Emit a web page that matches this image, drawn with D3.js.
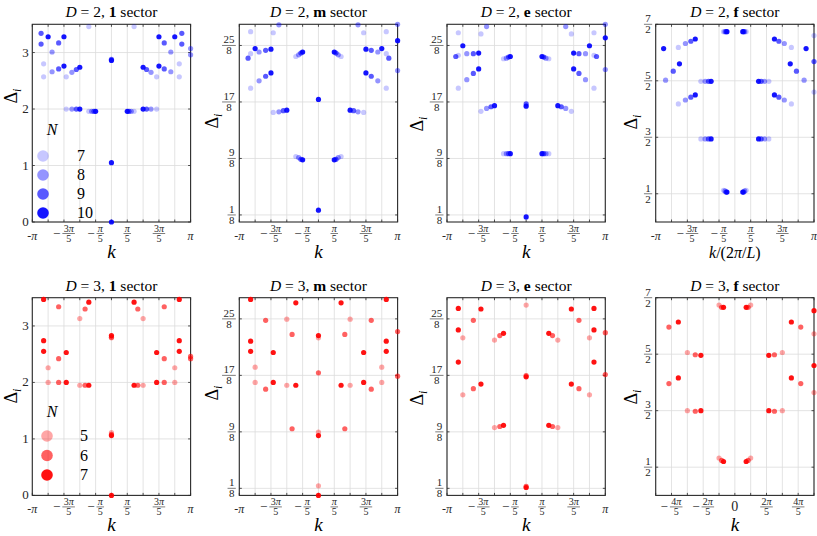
<!DOCTYPE html>
<html><head><meta charset="utf-8">
<script src="https://cdn.jsdelivr.net/npm/d3@7"></script>
<style>body{margin:0;background:#fff} svg, svg text{font-family:'Liberation Serif','Times New Roman','DejaVu Serif',serif}</style>
</head><body><svg id="c" width="817" height="536" font-family="Liberation Serif, DejaVu Serif, serif"></svg>
<script>
// ---- data: [k/π, Δ_i, N] ----
const d2Sector1 = [
[-0.889,3.34,9],[-0.889,3.15,9],[-0.857,2.80,7],[-0.857,2.57,7],[-0.8,3.28,10],
[-0.75,3.01,8],[-0.75,2.66,8],[-0.667,3.17,9],[-0.667,2.71,9],
[-0.6,3.28,10],[-0.6,2.76,10],[-0.571,2.57,7],[-0.571,2.0,7],
[-0.5,2.65,8],[-0.5,2.0,8],[-0.444,2.70,9],[-0.444,2.0,9],[-0.4,2.74,10],[-0.4,2.0,10],
[-0.286,3.46,7],[-0.286,1.96,7],[-0.25,1.96,8],[-0.222,1.96,9],[-0.2,1.96,10],
[0,2.88,9],[0,2.86,10],[0,1.05,10],[0,0,10],
[0.2,1.96,10],[0.222,1.96,9],[0.25,1.96,8],[0.286,1.96,7],[0.286,3.46,7],
[0.4,2.74,10],[0.4,2.0,10],[0.444,2.70,9],[0.444,2.0,9],[0.5,2.65,8],[0.5,2.0,8],
[0.571,2.57,7],[0.571,2.0,7],[0.6,3.28,10],[0.6,2.76,10],
[0.667,3.17,9],[0.667,2.71,9],[0.75,3.01,8],[0.75,2.66,8],[0.8,3.28,10],
[0.857,2.80,7],[0.857,2.57,7],[0.889,3.34,9],[0.889,3.15,9],
[1,3.07,8],[1,2.96,8]
];
const d2SectorM = [
[-0.889,2.90,9],[-0.857,3.37,7],[-0.857,2.98,7],[-0.857,2.37,7],[-0.8,3.07,10],
[-0.75,3.01,8],[-0.75,2.50,8],[-0.667,3.04,9],[-0.667,2.58,9],
[-0.6,3.06,10],[-0.6,2.64,10],[-0.571,3.35,7],[-0.571,1.94,7],
[-0.5,3.49,8],[-0.5,1.95,8],[-0.444,1.97,9],[-0.4,1.98,10],
[-0.286,2.93,7],[-0.25,2.96,8],[-0.222,2.99,9],[-0.2,3.01,10],
[-0.286,1.16,7],[-0.25,1.14,8],[-0.222,1.11,9],[-0.2,1.10,10],
[0,2.17,10],[0,0.21,10],
[0.2,3.01,10],[0.222,2.99,9],[0.25,2.96,8],[0.286,2.93,7],
[0.2,1.10,10],[0.222,1.11,9],[0.25,1.14,8],[0.286,1.16,7],
[0.4,1.98,10],[0.444,1.97,9],[0.5,1.95,8],[0.5,3.49,8],[0.571,1.94,7],[0.571,3.35,7],
[0.6,3.06,10],[0.6,2.64,10],[0.667,3.04,9],[0.667,2.58,9],[0.75,3.01,8],[0.75,2.50,8],
[0.8,3.07,10],[0.857,3.37,7],[0.857,2.98,7],[0.857,2.37,7],[0.889,2.90,9],
[1,3.50,8],[1,3.21,10],[1,2.68,8]
];
const d2SectorE = [
[-0.889,2.93,9],[-0.857,3.35,7],[-0.857,2.95,7],[-0.857,2.37,7],[-0.8,3.12,10],
[-0.75,2.98,8],[-0.75,2.52,8],[-0.667,2.98,9],[-0.667,2.63,9],
[-0.6,2.99,10],[-0.6,2.71,10],[-0.571,3.33,7],[-0.571,1.96,7],
[-0.5,3.46,8],[-0.5,2.01,8],[-0.444,2.04,9],[-0.4,2.06,10],
[-0.286,2.89,7],[-0.25,2.90,8],[-0.222,2.92,9],[-0.2,2.93,10],
[-0.286,1.21,7],[-0.25,1.21,8],[-0.222,1.21,9],[-0.2,1.21,10],
[0,2.09,9],[0,2.05,10],[0,0.09,10],
[0.2,2.93,10],[0.222,2.92,9],[0.25,2.90,8],[0.286,2.89,7],
[0.2,1.21,10],[0.222,1.21,9],[0.25,1.21,8],[0.286,1.21,7],
[0.4,2.06,10],[0.444,2.04,9],[0.5,2.01,8],[0.5,3.46,8],[0.571,1.96,7],[0.571,3.33,7],
[0.6,2.99,10],[0.6,2.71,10],[0.667,2.98,9],[0.667,2.63,9],[0.75,2.98,8],[0.75,2.52,8],
[0.8,3.12,10],[0.857,3.35,7],[0.857,2.95,7],[0.857,2.37,7],[0.889,2.93,9],
[1,3.50,8],[1,3.26,10],[1,2.70,8]
];
const d2SectorF = [
[-0.9,3.07,10],[-0.875,2.51,8],[-0.778,2.67,9],[-0.714,3.09,7],[-0.714,2.09,7],[-0.7,2.80,10],
[-0.625,3.16,8],[-0.625,2.16,8],[-0.556,3.20,9],[-0.556,2.21,9],[-0.5,3.24,10],[-0.5,2.25,10],
[-0.429,2.49,7],[-0.429,1.47,7],[-0.375,2.49,8],[-0.375,1.47,8],[-0.333,2.49,9],[-0.333,1.47,9],[-0.3,2.49,10],[-0.3,1.47,10],
[-0.143,3.37,7],[-0.143,0.56,7],[-0.125,3.37,8],[-0.125,0.55,8],[-0.111,3.37,9],[-0.111,0.53,9],[-0.1,3.37,10],[-0.1,0.53,10],
[0.1,3.37,10],[0.1,0.53,10],[0.111,3.37,9],[0.111,0.53,9],[0.125,3.37,8],[0.125,0.55,8],[0.143,3.37,7],[0.143,0.56,7],
[0.3,2.49,10],[0.3,1.47,10],[0.333,2.49,9],[0.333,1.47,9],[0.375,2.49,8],[0.375,1.47,8],[0.429,2.49,7],[0.429,1.47,7],
[0.5,3.24,10],[0.5,2.25,10],[0.556,3.20,9],[0.556,2.21,9],[0.625,3.16,8],[0.625,2.16,8],
[0.7,2.80,10],[0.714,3.09,7],[0.714,2.09,7],[0.778,2.67,9],[0.875,2.51,8],[0.9,3.07,10],
[1,3.30,7],[1,2.84,9],[1,2.30,7]
];
const d3Sector1 = [
[-0.857,3.47,7],[-0.857,2.74,7],[-0.857,2.55,7],[-0.8,2.26,5],[-0.8,2.0,5],
[-0.667,3.34,6],[-0.667,2.42,6],[-0.667,2.0,6],[-0.571,2.53,7],[-0.571,2.0,7],
[-0.4,3.13,5],[-0.4,1.95,5],[-0.333,3.30,6],[-0.333,1.95,6],[-0.286,3.42,7],[-0.286,1.95,7],
[0,2.79,5],[0,2.80,6],[0,2.83,7],[0,1.11,5],[0,1.08,6],[0,1.06,7],[0,0,7],
[0.286,3.42,7],[0.286,1.95,7],[0.333,3.30,6],[0.333,1.95,6],[0.4,3.13,5],[0.4,1.95,5],
[0.571,2.53,7],[0.571,2.0,7],[0.667,3.34,6],[0.667,2.42,6],[0.667,2.0,6],
[0.8,2.26,5],[0.8,2.0,5],[0.857,3.47,7],[0.857,2.74,7],[0.857,2.55,7],
[1,2.46,6],[1,2.42,6]
];
const d3SectorM = [
[-0.857,3.47,7],[-0.857,2.73,7],[-0.857,2.55,7],[-0.8,2.27,5],[-0.8,2.0,5],
[-0.667,3.10,6],[-0.667,1.88,6],[-0.571,2.53,7],[-0.571,2.0,7],
[-0.4,3.12,5],[-0.4,1.95,5],[-0.333,2.85,6],[-0.333,1.18,6],[-0.286,3.41,7],[-0.286,1.95,7],
[0,2.79,5],[0,2.83,7],[0,2.17,6],[0,1.12,5],[0,1.06,7],[0,0.17,5],[0,0,7],
[0.286,3.41,7],[0.286,1.95,7],[0.333,2.85,6],[0.333,1.18,6],[0.4,3.12,5],[0.4,1.95,5],
[0.571,2.53,7],[0.571,2.0,7],[0.667,3.10,6],[0.667,1.88,6],
[0.8,2.27,5],[0.8,2.0,5],[0.857,3.47,7],[0.857,2.73,7],[0.857,2.55,7],
[1,2.90,6],[1,2.11,6]
];
const d3SectorE = [
[-0.857,3.31,7],[-0.857,2.93,7],[-0.857,2.36,7],[-0.8,2.79,5],[-0.8,1.78,5],
[-0.667,3.10,6],[-0.667,1.89,6],[-0.571,3.30,7],[-0.571,1.97,7],
[-0.4,2.75,5],[-0.4,1.20,5],[-0.333,2.83,6],[-0.333,1.22,6],[-0.286,2.87,7],[-0.286,1.24,7],
[0,3.37,5],[0,2.12,6],[0,2.10,7],[0,0.16,6],[0,0.14,7],
[0.286,2.87,7],[0.286,1.24,7],[0.333,2.83,6],[0.333,1.22,6],[0.4,2.75,5],[0.4,1.20,5],
[0.571,3.30,7],[0.571,1.97,7],[0.667,3.10,6],[0.667,1.89,6],
[0.8,2.79,5],[0.8,1.78,5],[0.857,3.31,7],[0.857,2.93,7],[0.857,2.36,7],
[1,2.88,6],[1,2.14,6]
];
const d3SectorF = [
[-0.833,2.98,6],[-0.833,1.98,6],[-0.714,3.07,7],[-0.714,2.08,7],
[-0.6,2.53,5],[-0.6,1.50,5],[-0.5,2.49,6],[-0.5,1.49,6],[-0.429,2.48,7],[-0.429,1.50,7],
[-0.2,3.37,5],[-0.2,0.66,5],[-0.167,3.33,6],[-0.167,0.62,6],[-0.143,3.33,7],[-0.143,0.60,7],
[0.143,3.33,7],[0.143,0.60,7],[0.167,3.33,6],[0.167,0.62,6],[0.2,3.37,5],[0.2,0.66,5],
[0.429,2.48,7],[0.429,1.50,7],[0.5,2.49,6],[0.5,1.49,6],[0.6,2.53,5],[0.6,1.50,5],
[0.714,3.07,7],[0.714,2.08,7],[0.833,2.98,6],[0.833,1.98,6],
[1,3.27,7],[1,2.86,5],[1,2.30,7],[1,1.82,5]
];

// ---- ticks ----
const xGridVals = [-1,-0.8,-0.6,-0.4,-0.2,0,0.2,0.4,0.6,0.8,1];
const xTickVals = [-1,-0.6,-0.2,0.2,0.6,1];
const xTickLabels = [{plain:"-π"},{neg:true,num:"3π",den:"5"},{neg:true,num:"π",den:"5"},{num:"π",den:"5"},{num:"3π",den:"5"},{plain:"π"}];
const xTickValsF3 = [-0.8,-0.4,0,0.4,0.8];
const xTickLabelsF3 = [{neg:true,num:"4π",den:"5"},{neg:true,num:"2π",den:"5"},{plain:"0",big:true},{num:"2π",den:"5"},{num:"4π",den:"5"}];
const yTicksInt = [0,1,2,3];
const yLabelsInt = [{plain:"0"},{plain:"1"},{plain:"2"},{plain:"3"}];
const yTicksEighths = [0.125,1.125,2.125,3.125];
const yLabelsEighths = [{num:"1",den:"8"},{num:"9",den:"8"},{num:"17",den:"8"},{num:"25",den:"8"}];
const yTicksHalves = [0.5,1.5,2.5,3.5];
const yLabelsHalves = [{num:"1",den:"2"},{num:"3",den:"2"},{num:"5",den:"2"},{num:"7",den:"2"}];
const legendN2 = [7,8,9,10];
const legendN3 = [5,6,7];
const alpha2 = {7:0.22,8:0.42,9:0.65,10:0.92};
const alpha3 = {5:0.35,6:0.62,7:0.93};

// ---- layout ----
const FONT = "'Liberation Serif','Times New Roman','DejaVu Serif',serif";
const colLeft=[32.3,239.3,447,655.7], plotW=158.3;
const rowTop=[24.3,297.7], plotH=197.7;
const svg=d3.select("#c");

const panels=[
 {c:0,r:0,D:"2",s:"1",data:d2Sector1,yt:[yTicksInt,yLabelsInt],xt:[xTickVals,xTickLabels],col:"rgb(0,0,255)",al:alpha2,legend:legendN2,yl:[10,96],xl:"k"},
 {c:1,r:0,D:"2",s:"m",data:d2SectorM,yt:[yTicksEighths,yLabelsEighths],xt:[xTickVals,xTickLabels],col:"rgb(0,0,255)",al:alpha2,yl:[211,121],xl:"k"},
 {c:2,r:0,D:"2",s:"e",data:d2SectorE,yt:[yTicksEighths,yLabelsEighths],xt:[xTickVals,xTickLabels],col:"rgb(0,0,255)",al:alpha2,yl:[416,124],xl:"k"},
 {c:3,r:0,D:"2",s:"f",data:d2SectorF,yt:[yTicksHalves,yLabelsHalves],xt:[xTickVals,xTickLabels],col:"rgb(0,0,255)",al:alpha2,yl:[630,122],xl:"kL"},
 {c:0,r:1,D:"3",s:"1",data:d3Sector1,yt:[yTicksInt,yLabelsInt],xt:[xTickVals,xTickLabels],col:"rgb(255,0,0)",al:alpha3,legend:legendN3,yl:[10,396],xl:"k"},
 {c:1,r:1,D:"3",s:"m",data:d3SectorM,yt:[yTicksEighths,yLabelsEighths],xt:[xTickVals,xTickLabels],col:"rgb(255,0,0)",al:alpha3,yl:[211,393],xl:"k"},
 {c:2,r:1,D:"3",s:"e",data:d3SectorE,yt:[yTicksEighths,yLabelsEighths],xt:[xTickVals,xTickLabels],col:"rgb(255,0,0)",al:alpha3,yl:[416,398],xl:"k"},
 {c:3,r:1,D:"3",s:"f",data:d3SectorF,yt:[yTicksHalves,yLabelsHalves],xt:[xTickValsF3,xTickLabelsF3],col:"rgb(255,0,0)",al:alpha3,yl:[630,397],xl:"k"}
];

function txt(parent){ return parent.append("text").attr("font-family",FONT).style("font-family",FONT); }

function addParts(t, str){
  const parts = str.split(/(π)/).filter(s=>s.length);
  parts.forEach(p=>{
    const ts=t.append("tspan").text(p);
    if(p==="π") ts.attr("font-style","italic");
  });
}

function label(parent, x, y, spec, mode){
  const g=parent.append("g").attr("fill","#262626");
  if(spec.plain!==undefined){
    const fs = spec.big?14:(mode==="x"?12:13);
    const t=txt(g).attr("font-size",fs);
    addParts(t, spec.plain);
    if(mode==="x"){ t.attr("text-anchor","middle").attr("x",x).attr("y",y+(spec.big?15.5:17.5)); }
    else { t.attr("text-anchor","end").attr("x",x).attr("y",y+4); }
    return;
  }
  const fs = mode==="x"?10:11;
  const barY = mode==="x"? y+11.5 : y;
  const numT=txt(g).attr("text-anchor","middle").attr("font-size",fs).attr("y",-fs*0.2);
  addParts(numT, spec.num);
  const denT=txt(g).attr("text-anchor","middle").attr("font-size",fs).attr("y",fs*0.8);
  addParts(denT, spec.den);
  const w=Math.max(numT.node().getComputedTextLength(),denT.node().getComputedTextLength())+fs*0.25;
  g.append("line").attr("x1",-w/2).attr("x2",w/2).attr("y1",0).attr("y2",0).attr("stroke","#262626").attr("stroke-width",0.6);
  let left=-w/2;
  if(spec.neg){
    const m=txt(g).attr("text-anchor","end").attr("font-size",13).attr("x",-w/2-2).attr("y",4).text("−");
    left = -w/2-2-m.node().getComputedTextLength();
  }
  const right=w/2;
  const shift = mode==="x" ? x-(left+right)/2 : x-right;
  g.attr("transform",`translate(${shift},${barY})`);
}

panels.forEach(p=>{
  const L=colLeft[p.c], T=rowTop[p.r], R=L+plotW, B=T+plotH;
  const x=d3.scaleLinear().domain([-1,1]).range([L,R]);
  const y=d3.scaleLinear().domain([0,3.5]).range([B,T]);
  const g=svg.append("g");
  // grid
  g.selectAll(".vg").data(xGridVals).join("line")
    .attr("x1",d=>x(d)).attr("x2",d=>x(d)).attr("y1",T).attr("y2",B)
    .attr("stroke","#dcdcdc").attr("stroke-width",0.8);
  g.selectAll(".hg").data(p.yt[0]).join("line")
    .attr("x1",L).attr("x2",R).attr("y1",d=>y(d)).attr("y2",d=>y(d))
    .attr("stroke","#dcdcdc").attr("stroke-width",0.8);
  // ticks (inward, all sides)
  const tl=2.5;
  xGridVals.forEach(v=>{
    g.append("line").attr("x1",x(v)).attr("x2",x(v)).attr("y1",B).attr("y2",B-tl).attr("stroke","#262626").attr("stroke-width",0.8);
    g.append("line").attr("x1",x(v)).attr("x2",x(v)).attr("y1",T).attr("y2",T+tl).attr("stroke","#262626").attr("stroke-width",0.8);
  });
  p.yt[0].forEach(v=>{
    g.append("line").attr("x1",L).attr("x2",L+tl).attr("y1",y(v)).attr("y2",y(v)).attr("stroke","#262626").attr("stroke-width",0.8);
    g.append("line").attr("x1",R).attr("x2",R-tl).attr("y1",y(v)).attr("y2",y(v)).attr("stroke","#262626").attr("stroke-width",0.8);
  });
  // frame
  g.append("rect").attr("x",L).attr("y",T).attr("width",plotW).attr("height",plotH)
    .attr("fill","none").attr("stroke","#2b2b2b").attr("stroke-width",1.1);
  // tick labels
  p.xt[0].forEach((v,i)=>label(g,x(v),B,p.xt[1][i],"x"));
  p.yt[0].forEach((v,i)=>label(g,L-3.5,y(v),p.yt[1][i],"y"));
  // points
  const pts=p.data.slice().sort((a,b)=>a[2]-b[2]);
  g.selectAll(".pt").data(pts).join("circle")
    .attr("cx",d=>x(d[0])).attr("cy",d=>y(d[1])).attr("r",2.6)
    .attr("fill",p.col).attr("fill-opacity",d=>p.al[d[2]]);
  // title
  const tt=txt(g).attr("x",(L+R)/2).attr("y",T-7).attr("text-anchor","middle").attr("font-size",15.5).attr("fill","#000");
  tt.append("tspan").attr("font-style","italic").text("D");
  tt.append("tspan").text(" = "+p.D+", ");
  tt.append("tspan").attr("font-weight","bold").text(p.s);
  tt.append("tspan").text(" sector");
  // y label
  const yl=txt(g).attr("transform",`translate(${p.yl[0]+7},${p.yl[1]}) rotate(-90)`)
    .attr("text-anchor","middle").attr("font-size",18).attr("fill","#000");
  yl.append("tspan").text("Δ");
  yl.append("tspan").attr("font-style","italic").attr("font-size",12).attr("dy",4).text("i");
  // x label
  const isKL = p.xl!=="k";
  const xl=txt(g).attr("x",(L+R)/2).attr("y",B+(isKL?36:35.5)).attr("text-anchor","middle").attr("font-size",isKL?16:19).attr("fill","#000");
  if(!isKL){ xl.append("tspan").attr("font-style","italic").text("k"); }
  else {
    xl.append("tspan").attr("font-style","italic").text("k");
    xl.append("tspan").text("/(2");
    xl.append("tspan").attr("font-style","italic").text("π");
    xl.append("tspan").text("/");
    xl.append("tspan").attr("font-style","italic").text("L");
    xl.append("tspan").text(")");
  }
  // legend
  if(p.legend){
    const isTop=p.r===0;
    const nY = isTop?135:417;
    const cx = isTop?43:47;
    const y0 = isTop?156:436, dy = isTop?19:19.5;
    txt(g).attr("x",52).attr("y",nY).attr("text-anchor","middle").attr("font-size",16).attr("font-style","italic").text("N");
    p.legend.forEach((n,i)=>{
      g.append("circle").attr("cx",cx).attr("cy",y0+i*dy).attr("r",5.8).attr("fill",p.col).attr("fill-opacity",p.al[n]);
      txt(g).attr("x",isTop?77:80).attr("y",y0+i*dy+5).attr("font-size",16).attr("fill","#000").text(n);
    });
  }
});
</script>
</body></html>
